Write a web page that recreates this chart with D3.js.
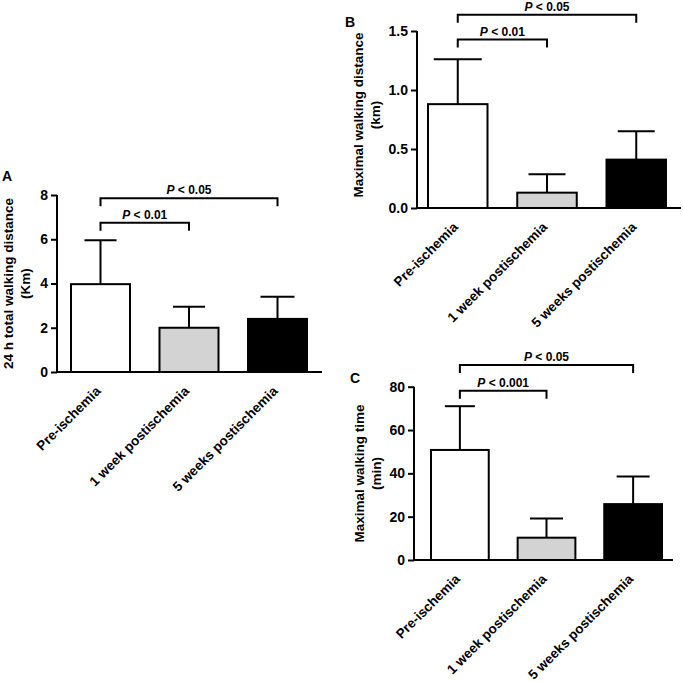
<!DOCTYPE html>
<html>
<head>
<meta charset="utf-8">
<script src="https://cdn.jsdelivr.net/npm/d3@7"></script>
<style>
  body { margin: 0; background: #fff; }
  svg { font-family: "Liberation Sans", Arial, sans-serif; font-weight: bold; }
  .tick text { font-size: 14px; font-weight: bold; fill: #000; }
</style>
</head>
<body>
<svg width="683" height="681"></svg>
<script>
// groups on the x axis (same for the three panels)
const groups = ['Pre-ischemia', '1 week postischemia', '5 weeks postischemia'];
const fills = ['#ffffff', '#d3d3d3', '#000000'];

// A: 24 h total walking distance (km), mean and SD
const distance24hMean = [3.97, 2.0, 2.4];
const distance24hSD = [1.98, 0.95, 1.0];
const distance24hTicks = [0, 2, 4, 6, 8];

// B: maximal walking distance (km)
const maxDistanceMean = [0.88, 0.13, 0.41];
const maxDistanceSD = [0.38, 0.155, 0.24];
const maxDistanceTicks = [0, 0.5, 1.0, 1.5];

// C: maximal walking time (min)
const maxTimeMean = [50.8, 10.3, 25.8];
const maxTimeSD = [20.2, 8.9, 12.7];
const maxTimeTicks = [0, 20, 40, 60, 80];

// significance brackets: [from group, to group, label, height in data units]
const statsA = [[0, 1, '< 0.01', 6.75], [0, 2, '< 0.05', 7.85]];
const statsB = [[0, 1, '< 0.01', 1.427], [0, 2, '< 0.05', 1.638]];
const statsC = [[0, 1, '< 0.001', 78.1], [0, 2, '< 0.05', 90]];

const svg = d3.select('svg');

const panels = [
  { letter: 'A', lx: 2, ly: 181, mean: distance24hMean, sd: distance24hSD, ticks: distance24hTicks,
    fmt: d3.format('d'), stats: statsA, title: ['24 h total walking distance', '(Km)'],
    axisX: 57, axisEnd: 322, top: 195, bottom: 372, bars: [71, 307], caps: [32, 32, 34],
    labelX: 13, labelY: 283.5 },
  { letter: 'B', lx: 345, ly: 27, mean: maxDistanceMean, sd: maxDistanceSD, ticks: maxDistanceTicks,
    fmt: d3.format('.1f'), stats: statsB, title: ['Maximal walking distance', '(km)'],
    axisX: 417, axisEnd: 681, top: 31, bottom: 208, bars: [428, 666], caps: [48, 37, 37],
    labelX: 363, labelY: 115 },
  { letter: 'C', lx: 350, ly: 383, mean: maxTimeMean, sd: maxTimeSD, ticks: maxTimeTicks,
    fmt: d3.format('d'), stats: statsC, title: ['Maximal walking time', '(min)'],
    axisX: 414, axisEnd: 673, top: 386.7, bottom: 560, bars: [431, 662], caps: [30, 33, 33],
    labelX: 364, labelY: 473.5 }
];

panels.forEach(p => {
  const g = svg.append('g');

  const x = d3.scaleBand()
              .domain(groups)
              .range(p.bars)
              .paddingInner(1 / 3)
              .paddingOuter(0);

  const y = d3.scaleLinear()
              .domain([0, d3.max(p.ticks)])
              .range([p.bottom, p.top]);

  const rows = groups.map((k, i) => ({ key: k, mean: p.mean[i], sd: p.sd[i], fill: fills[i], cap: p.caps[i] }));

  // error bars (upper only), drawn below the bars
  g.selectAll('.err')
   .data(rows)
   .enter()
   .append('line')
   .attr('x1', d => x(d.key) + x.bandwidth() / 2)
   .attr('x2', d => x(d.key) + x.bandwidth() / 2)
   .attr('y1', d => y(d.mean))
   .attr('y2', d => y(d.mean + d.sd))
   .attr('stroke', '#000')
   .attr('stroke-width', 2);

  g.selectAll('.cap')
   .data(rows)
   .enter()
   .append('line')
   .attr('x1', d => x(d.key) + x.bandwidth() / 2 - d.cap / 2)
   .attr('x2', d => x(d.key) + x.bandwidth() / 2 + d.cap / 2)
   .attr('y1', d => y(d.mean + d.sd))
   .attr('y2', d => y(d.mean + d.sd))
   .attr('stroke', '#000')
   .attr('stroke-width', 2);

  g.selectAll('.bar')
   .data(rows)
   .enter()
   .append('rect')
   .attr('x', d => x(d.key))
   .attr('y', d => y(d.mean))
   .attr('width', x.bandwidth())
   .attr('height', d => y(0) - y(d.mean))
   .attr('fill', d => d.fill)
   .attr('stroke', '#000')
   .attr('stroke-width', 2);

  // y axis
  const yAxis = g.append('g')
                 .attr('transform', `translate(${p.axisX}, 0)`)
                 .call(d3.axisLeft(y)
                         .tickValues(p.ticks)
                         .tickFormat(p.fmt)
                         .tickSize(6)
                         .tickSizeOuter(0)
                         .tickPadding(3));
  yAxis.selectAll('path, line').attr('stroke', '#000').attr('stroke-width', 2);
  yAxis.select('.domain').attr('d', `M0,${p.bottom}V${p.top}`);

  // x axis
  g.append('line')
   .attr('x1', p.axisX - 1)
   .attr('x2', p.axisEnd)
   .attr('y1', y(0))
   .attr('y2', y(0))
   .attr('stroke', '#000')
   .attr('stroke-width', 2);

  g.selectAll('.xlab')
   .data(groups)
   .enter()
   .append('text')
   .attr('transform', d => `translate(${x(d) + x.bandwidth() / 2 + 1}, ${y(0) + 20}) rotate(-45)`)
   .attr('text-anchor', 'end')
   .attr('font-size', 13.5)
   .text(d => d);

  // y label
  const lab = g.append('text')
               .attr('transform', `translate(${p.labelX}, ${p.labelY}) rotate(-90)`)
               .attr('text-anchor', 'middle')
               .attr('font-size', 13.5);
  lab.append('tspan').attr('x', 0).attr('y', 0).text(p.title[0]);
  lab.append('tspan').attr('x', 0).attr('y', 17).text(p.title[1]);

  // significance brackets
  p.stats.forEach(s => {
    const xa = x(groups[s[0]]) + x.bandwidth() / 2;
    const xb = x(groups[s[1]]) + x.bandwidth() / 2;
    const yb = y(s[3]);
    g.append('path')
     .attr('d', `M${xa},${yb + 8}V${yb}H${xb}V${yb + 8}`)
     .attr('fill', 'none')
     .attr('stroke', '#000')
     .attr('stroke-width', 2);
    const t = g.append('text')
               .attr('x', (xa + xb) / 2)
               .attr('y', yb - 4)
               .attr('text-anchor', 'middle')
               .attr('font-size', 12);
    t.append('tspan').attr('font-style', 'italic').text('P');
    t.append('tspan').text(' ' + s[2]);
  });

  svg.append('text')
     .attr('x', p.lx)
     .attr('y', p.ly)
     .attr('font-size', 14)
     .text(p.letter);
});
</script>
</body>
</html>
